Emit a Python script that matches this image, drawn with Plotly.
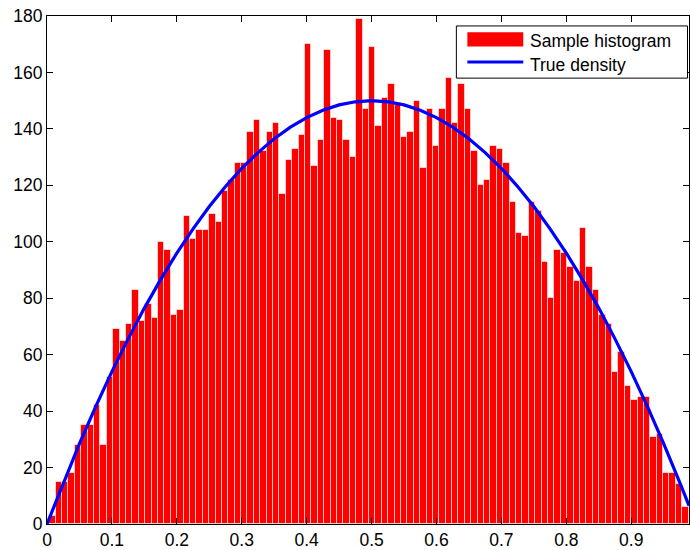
import plotly.graph_objects as go

# Histogram counts (100 bins)
counts = [3, 15, 15, 18, 28, 35, 35, 42, 28, 52,
          69, 65, 71, 83, 72, 78, 73, 100, 97, 74,
          76, 109, 101, 104, 104, 110, 107, 118, 122, 128,
          128, 139, 143, 132, 139, 142, 117, 129, 133, 138,
          170, 127, 136, 168, 144, 143, 136, 130, 179, 147,
          169, 141, 151, 156, 149, 137, 139, 150, 126, 147,
          134, 147, 158, 142, 156, 147, 132, 120, 122, 134,
          133, 128, 114, 103, 102, 114, 111, 93, 80, 97,
          96, 91, 86, 105, 91, 83, 74, 71, 54, 61,
          49, 44, 45, 45, 31, 32, 18, 18, 14, 6]

bin_start = 0.0035
bin_width = 0.00985
bin_centers = [bin_start + bin_width * (i + 0.5) for i in range(len(counts))]

# True density curve
density_x = [0, 0.025, 0.05, 0.075, 0.1, 0.125, 0.15, 0.175, 0.2, 0.225,
             0.25, 0.275, 0.3, 0.325, 0.35, 0.375, 0.4, 0.425, 0.45, 0.475,
             0.5, 0.525, 0.55, 0.575, 0.6, 0.625, 0.65, 0.675, 0.7, 0.725,
             0.75, 0.775, 0.8, 0.825, 0.85, 0.875, 0.9, 0.925, 0.95, 0.975, 0.989]
density_y = [0, 14.6, 28.5, 41.6, 54, 65.6, 76.5, 86.6, 96, 104.6,
             112.5, 119.6, 126, 131.6, 136.5, 140.6, 144, 146.6, 148.5, 149.6,
             150, 149.6, 148.5, 146.6, 144, 140.6, 136.5, 131.6, 126, 119.6,
             112.5, 104.6, 96, 86.6, 76.5, 65.6, 54, 41.6, 28.5, 14.6, 6.5]

x_ticks = [0, 0.1, 0.2, 0.3, 0.4, 0.5, 0.6, 0.7, 0.8, 0.9]
x_tick_labels = ["0", "0.1", "0.2", "0.3", "0.4", "0.5", "0.6", "0.7", "0.8", "0.9"]
y_ticks = [0, 20, 40, 60, 80, 100, 120, 140, 160, 180]
y_tick_labels = [str(v) for v in y_ticks]

legend_labels = ["Sample histogram", "True density"]

FONT = "Liberation Sans, Arial, Helvetica, sans-serif"
FSIZE = 17.5

fig = go.Figure()
fig.add_trace(go.Bar(
    x=bin_centers, y=counts, width=bin_width,
    marker=dict(color="#ff0000", line=dict(color="rgba(255,255,255,0.6)", width=1)),
    name=legend_labels[0], showlegend=False,
))
fig.add_trace(go.Scatter(
    x=density_x, y=density_y, mode="lines",
    line=dict(color="#0000ff", width=3.2),
    name=legend_labels[1], showlegend=False,
))

L, R, T, B = 47, 0, 16, 23
W, H = 690, 550
pw, ph = W - L - R, H - T - B


def px(xp):
    return (xp - L) / pw


def py(yp):
    return (H - B - yp) / ph


shapes = [
    dict(type="rect", xref="paper", yref="paper",
         x0=px(457), x1=px(688.5), y0=py(78.5), y1=py(26),
         line=dict(color="black", width=1), fillcolor="white", layer="above"),
    dict(type="rect", xref="paper", yref="paper",
         x0=px(468), x1=px(524), y0=py(46.7), y1=py(32.3),
         line=dict(width=0), fillcolor="#ff0000", layer="above"),
    dict(type="line", xref="paper", yref="paper",
         x0=px(468), x1=px(524), y0=py(62.3), y1=py(62.3),
         line=dict(color="#0000ff", width=3), layer="above"),
]
annotations = [
    dict(xref="paper", yref="paper", x=px(529), y=py(41), text=legend_labels[0],
         showarrow=False, xanchor="left", yanchor="middle",
         font=dict(family=FONT, size=FSIZE, color="black")),
    dict(xref="paper", yref="paper", x=px(529), y=py(65.5), text=legend_labels[1],
         showarrow=False, xanchor="left", yanchor="middle",
         font=dict(family=FONT, size=FSIZE, color="black")),
]

axis_common = dict(
    showline=True, linecolor="black", linewidth=1, mirror="ticks",
    ticks="inside", ticklen=6, tickcolor="black", tickwidth=1,
    showgrid=False, zeroline=False,
    tickfont=dict(family=FONT, size=FSIZE, color="black"),
)

fig.update_layout(
    width=W, height=H,
    margin=dict(l=L, r=R, t=T, b=B, pad=0),
    paper_bgcolor="white", plot_bgcolor="white",
    bargap=0,
    xaxis=dict(range=[0, 0.989], tickvals=x_ticks, ticktext=x_tick_labels, **axis_common),
    yaxis=dict(range=[0, 180], tickvals=y_ticks, ticktext=y_tick_labels, **axis_common),
    shapes=shapes, annotations=annotations,
    showlegend=False,
)

fig.write_html("out.html")
